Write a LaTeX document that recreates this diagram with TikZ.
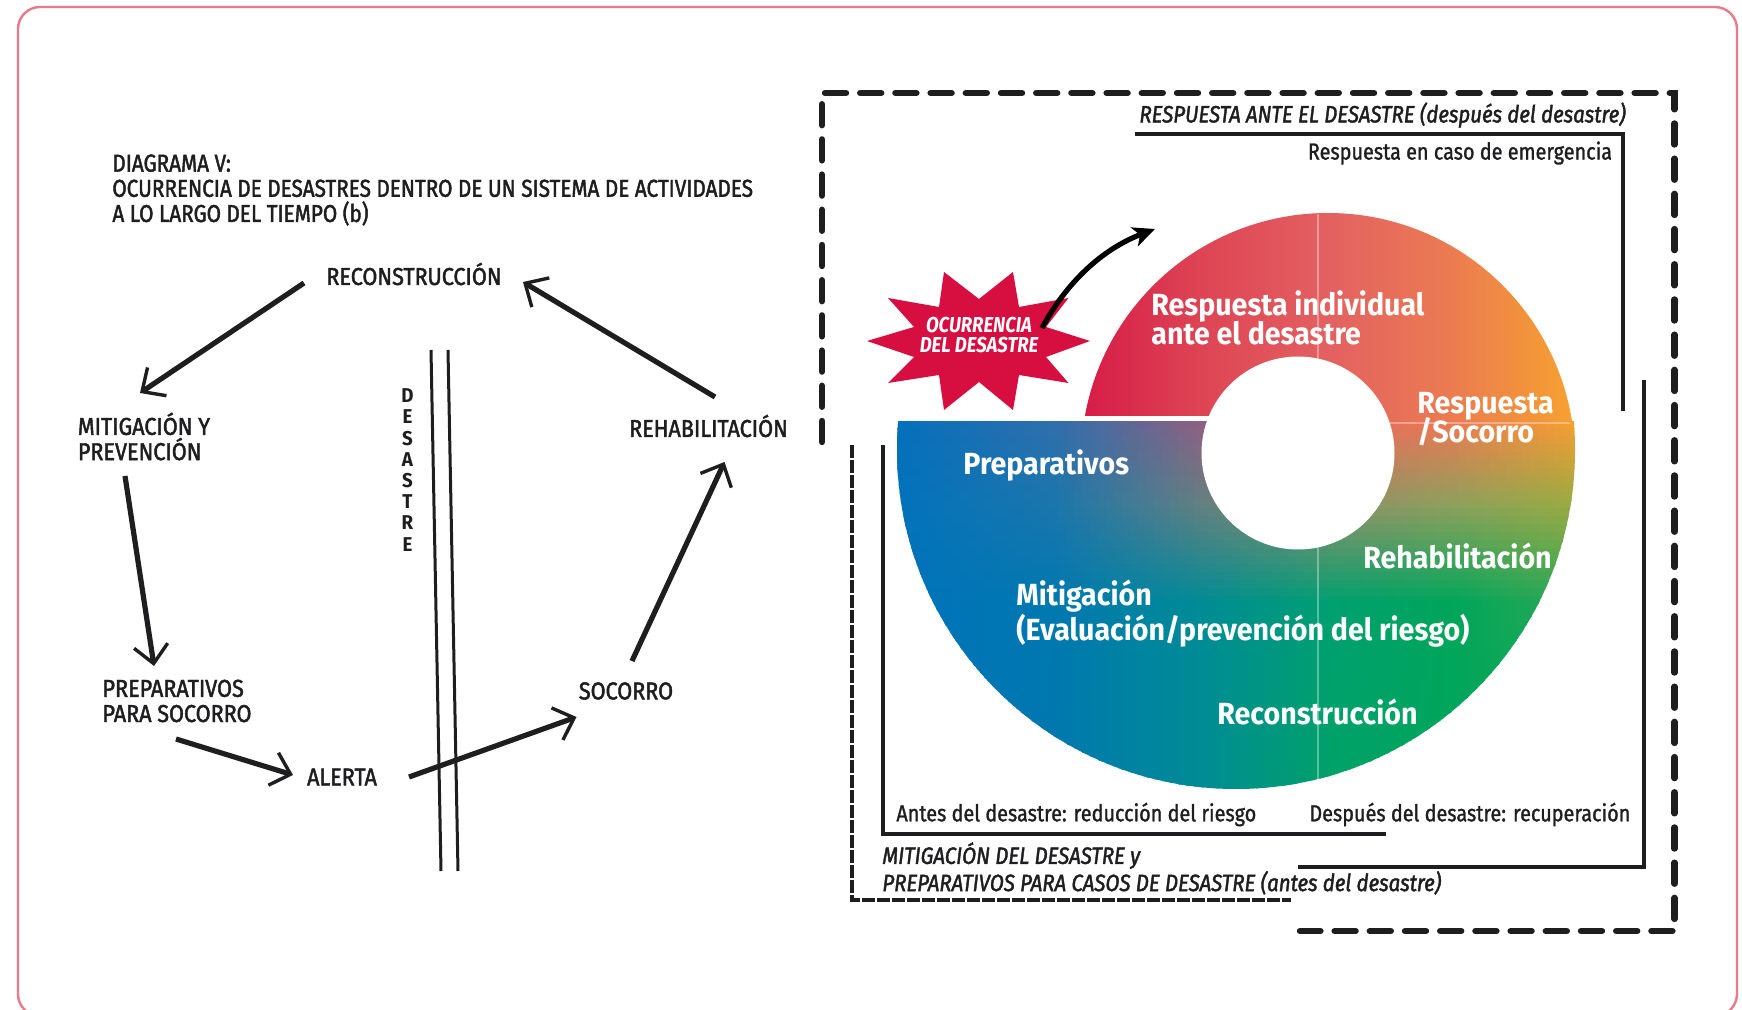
\documentclass[tikz,border=0pt]{standalone}
\usepackage{fontspec}
\usetikzlibrary{arrows.meta,calc}
\setmainfont{Fira Sans}
\newfontfamily\condm[FakeStretch=0.85,FakeBold=1.8]{Fira Sans}
\newfontfamily\condn[FakeStretch=0.885,FakeBold=1.8]{Fira Sans}
\newfontfamily\condr[FakeStretch=0.855,FakeBold=1.2]{Fira Sans}
\newfontfamily\condh[FakeStretch=0.867,FakeBold=1.8]{Fira Sans}
\newfontfamily\condb[FakeStretch=0.935]{Fira Sans}
\newfontfamily\condt[FakeStretch=0.86]{Fira Sans}
\newcommand\nolsk{\lineskiplimit=-20pt\relax}
\definecolor{framec}{HTML}{E97A8C}
\definecolor{inkc}{HTML}{1E1E20}
\definecolor{starc}{HTML}{D60F40}
% lattice colours of the lower part of the wheel
\definecolor{r0c0}{HTML}{0070BC}\definecolor{r0c1}{HTML}{2F6FAC}\definecolor{r0c2}{HTML}{8F6080}\definecolor{r0c3}{HTML}{E46A5E}\definecolor{r0c4}{HTML}{EA7A52}\definecolor{r0c5}{HTML}{F6A22F}
\definecolor{r1c0}{HTML}{0072BC}\definecolor{r1c1}{HTML}{1A76AC}\definecolor{r1c2}{HTML}{648080}\definecolor{r1c3}{HTML}{8E9068}\definecolor{r1c4}{HTML}{8EA05C}\definecolor{r1c5}{HTML}{9BAB40}
\definecolor{r2c0}{HTML}{0072BC}\definecolor{r2c1}{HTML}{0078B0}\definecolor{r2c2}{HTML}{008C94}\definecolor{r2c3}{HTML}{00A070}\definecolor{r2c4}{HTML}{00A65A}\definecolor{r2c5}{HTML}{30A855}
\definecolor{r3c0}{HTML}{0072B8}\definecolor{r3c1}{HTML}{0078AE}\definecolor{r3c2}{HTML}{008C94}\definecolor{r3c3}{HTML}{00A266}\definecolor{r3c4}{HTML}{00A65A}\definecolor{r3c5}{HTML}{00A65A}
\pgfdeclarehorizontalshading{toprow}{100bp}{rgb(0bp)=(0.84,0.11,0.28);rgb(25bp)=(0.84,0.11,0.28);rgb(37bp)=(0.87,0.27,0.33);rgb(50bp)=(0.89,0.38,0.38);rgb(62bp)=(0.92,0.48,0.32);rgb(75bp)=(0.965,0.635,0.185);rgb(100bp)=(0.965,0.635,0.185)}
\tikzset{
  flow/.style={draw=inkc,line width=2.6pt,-{Straight Barb[length=9pt,width=17pt,line width=1.7pt]}},
  lbl/.style={inner sep=0pt,text=inkc,font=\fontsize{12.2}{12.6}\selectfont\nolsk\condn,align=left},
  titlelbl/.style={inner sep=0pt,text=inkc,font=\fontsize{12.2}{12.6}\selectfont\nolsk\condm,align=left,anchor=west},
  small/.style={inner sep=0pt,text=inkc,font=\fontsize{11.6}{13}\selectfont\condr,anchor=west},
  head/.style={inner sep=0pt,text=inkc,font=\fontsize{11.8}{13.6}\selectfont\nolsk\condh\itshape,anchor=west,align=left},
  wheel/.style={inner sep=0pt,text=white,font=\fontsize{15.3}{14.4}\selectfont\nolsk\condb\bfseries,anchor=west,align=left},
  bigdash/.style={draw=inkc,line width=3.2pt,line cap=round,dash pattern=on 10.5pt off 7.1pt},
  smalldash/.style={draw=inkc,line width=1.7pt,dash pattern=on 6.5pt off 1pt},
  bracket/.style={draw=inkc,line width=1.7pt},
  bar/.style={draw=inkc,line width=1.5pt},
  seam/.style={draw=white,opacity=.35,line width=.6pt}
}
\begin{document}
\begin{tikzpicture}[x=0.5pt,y=-0.5pt]
\useasboundingbox (0,0) rectangle (1742,1010);
\fill[white] (0,0) rectangle (1742,1010);
\draw[framec,line width=1.2pt,rounded corners=11pt] (18,7) rectangle (1737,1016);

% wheel: upper piece
\begin{scope}
  \clip (1080,200) rectangle (1300,416) (1300,200) rectangle (1590,424);
  \clip (1328,460) circle [radius=247];
  \shade[shading=toprow] (1083,200) rectangle (1575,430);
\end{scope}
% wheel: lower piece
\begin{scope}
  \clip (1236,450) circle [radius=339];
  \clip (880,422) rectangle (1590,800);
  \foreach \ya/\yb/\ka/\kb in {420/500/0/1,500/600/1/2,600/800/2/3}{
    \pgfmathtruncatemacro\ysec{\ya+8}
    \pgfmathtruncatemacro\yend{\yb-1}
    \foreach \yy in {\ya,\ysec,...,\yend}{
      \pgfmathsetmacro\tp{min(99.9,(\yb-\yy)/(\yb-\ya)*100)}
      \colorlet{bandA}{r\ka c0!\tp!r\kb c0}
      \colorlet{bandB}{r\ka c1!\tp!r\kb c1}
      \colorlet{bandC}{r\ka c2!\tp!r\kb c2}
      \colorlet{bandD}{r\ka c3!\tp!r\kb c3}
      \colorlet{bandE}{r\ka c4!\tp!r\kb c4}
      \colorlet{bandF}{r\ka c5!\tp!r\kb c5}
      \foreach \xa/\xb/\cl/\cr in {880/1050/A/B,1050/1200/B/C,1200/1330/C/D,1330/1450/D/E,1450/1580/E/F}{
        \pgfmathtruncatemacro\xsec{\xa+8}
        \pgfmathtruncatemacro\xend{\xb-1}
        \foreach \xx in {\xa,\xsec,...,\xend}{
          \pgfmathsetmacro\pp{min(99.9,(\xb-\xx)/(\xb-\xa)*100)}
          \fill[band\cl!\pp!band\cr] (\xx,\yy) rectangle (\xx+10,\yy+10);
        }
      }
    }
  }
\end{scope}
\draw[seam] (1318,214) -- (1318,360);
\draw[seam] (1318,545) -- (1318,788);
\draw[seam] (1390,423) -- (1570,423);
\fill[white] (1298,453) circle [radius=96.5];

% bracket lines
\draw[bigdash] (822,442) -- (822,93) -- (1674.5,93) -- (1674.5,931) -- (1300,931);
\draw[smalldash] (852,445) -- (852,900) -- (1291,900);
\draw[bracket] (883,445) -- (883,834) -- (1386,834);
\draw[bracket] (1644,380) -- (1644,867) -- (1298,867);
\draw[bracket] (1135,134) -- (1623,134) -- (1623,411);

% star
\fill[starc] (944,272) -- (979,299) -- (1013,272) -- (1019,307) -- (1068.5,298) -- (1046,327) -- (1090,341) -- (1046,357) -- (1068.5,383) -- (1019,375) -- (1013,410) -- (979,382) -- (944,410) -- (939,375) -- (888,383) -- (914,357) -- (867,341) -- (914,327) -- (888,298) -- (939,307) -- cycle;
\node[inner sep=0pt,text=white,align=center,font=\fontsize{10.8}{10}\selectfont\nolsk\condt\bfseries\itshape] (starlabel) at (979,335) {OCURRENCIA\\DEL DESASTRE};
\coordinate (starhit) at (1155,229);
\draw[draw=black,line width=2.6pt,-{Stealth[length=11pt,width=10pt,inset=3pt]}] ($(starlabel)+(63,-7)$) .. controls (1065,285) and (1100,250) .. (starhit);

% wheel labels
\node[wheel] (w1) at (1151,318) {Respuesta individual\\ante el desastre};
\node[wheel] (w2) at (1417,419.5) {Respuesta\\/Socorro};
\node[wheel] (w3) at (963,465) {Preparativos};
\node[wheel] (w4) at (1363,556) {Rehabilitación};
\node[wheel] (w5) at (1016,596) {Mitigación};
\node[wheel] (w6) at (1016,631) {(Evaluación/prevención del riesgo)};
\node[wheel] (w7) at (1217,712) {Reconstrucción};

% right-hand captions
\node[head] (t1) at (1139,115) {RESPUESTA ANTE EL DESASTRE (después del desastre)};
\node[small] (t2) at (1307.5,153) {Respuesta en caso de emergencia};
\node[small] (t3) at (896,814.5) {Antes del desastre: reducción del riesgo};
\node[small] (t4) at (1309,814.5) {Después del desastre: recuperación};
\node[head] (t5) at (882,868.5) {MITIGACIÓN DEL DESASTRE y\\PREPARATIVOS PARA CASOS DE DESASTRE (antes del desastre)};

% left-hand diagram
\node[titlelbl] (title) at (112,190) {DIAGRAMA V:\\OCURRENCIA DE DESASTRES DENTRO DE UN SISTEMA DE ACTIVIDADES\\A LO LARGO DEL TIEMPO (b)};
\node[lbl] (recon) at (414,274) {RECONSTRUCCIÓN};
\node[lbl] (mitig) at (144,436.5) {MITIGACIÓN Y\\PREVENCIÓN};
\node[lbl] (rehab) at (708.5,426) {REHABILITACIÓN};
\node[lbl] (prep) at (177,701) {PREPARATIVOS\\PARA SOCORRO};
\node[lbl] (alerta) at (342,777) {ALERTA};
\node[lbl] (socorro) at (626,691) {SOCORRO};
\node[inner sep=0pt,text=inkc,align=center,font=\fontsize{10}{10.6}\selectfont\nolsk\condb\bfseries] (des) at (407.5,470) {D\\E\\S\\A\\S\\T\\R\\E};
\coordinate (bara) at (431,350); \coordinate (barb) at (441,871);
\coordinate (barc) at (448,350); \coordinate (bard) at (458,871);
\draw[bar] (bara) -- (barb);
\draw[bar] (barc) -- (bard);
\draw[flow] ($(recon)+(-110,9)$) -- ($(mitig)+(-4,-43.5)$);
\draw[flow] ($(rehab)+(6.5,-29)$) -- ($(recon)+(109,8)$);
\draw[flow] ($(mitig)+(-19,39.5)$) -- ($(prep)+(-23,-35)$);
\draw[flow] ($(prep)+(-1,38)$) -- ($(alerta)+(-49,-2)$);
\draw[flow] ($(alerta)+(67,0)$) -- ($(socorro)+(-49.5,26)$);
\draw[flow] ($(socorro)+(6,-30)$) -- ($(rehab)+(16,36)$);
\end{tikzpicture}
\end{document}
